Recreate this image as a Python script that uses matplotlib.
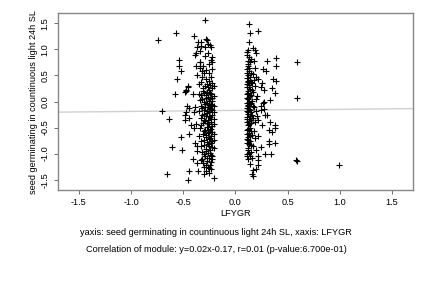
import matplotlib
matplotlib.use("Agg")
import matplotlib.pyplot as plt
import numpy as np

# point readings (x, y), grouped by cluster
left_pts = [
    (-0.74, 1.18), (-0.57, 1.31), (-0.29, 1.56), (-0.40, 1.26), (-0.36, 1.15), (-0.28, 1.20),
    (-0.37, 1.04), (-0.39, 0.90), (-0.54, 0.79), (-0.54, 0.69), (-0.52, 0.58), (-0.34, 0.76),
    (-0.34, 0.69), (-0.38, 0.68), (-0.56, 0.44), (-0.58, 0.15), (-0.45, 0.29), (-0.47, 0.20),
    (-0.41, 0.15), (-0.46, -0.08), (-0.44, -0.12), (-0.47, -0.20), (-0.40, -0.20), (-0.39, -0.10),
    (-0.44, -0.31), (-0.43, -0.46), (-0.38, -0.43), (-0.40, -0.50), (-0.70, -0.19), (-0.64, -0.33),
    (-0.66, -1.39), (-0.61, -0.88), (-0.52, -0.68), (-0.51, -0.94), (-0.45, -1.51), (-0.44, -0.63),
    (-0.39, -0.79), (-0.37, -0.85), (-0.37, -0.95), (-0.41, -1.11), (-0.37, -1.18), (-0.32, -1.10),
    (-0.44, -1.33), (-0.36, -1.33), (-0.30, -1.40), (-0.21, -1.46), (-0.48, -0.26), (-0.48, -0.35),
    (-0.47, 0.22), (-0.45, 0.27), (-0.48, 0.18),
    (-0.27, 1.19), (-0.26, 1.10), (-0.23, 1.05), (-0.29, 1.05), (-0.33, 1.15), (-0.33, 1.06),
    (-0.38, 0.93), (-0.34, 0.97), (-0.26, 0.94), (-0.22, 0.85), (-0.23, 0.80), (-0.22, 0.76),
    (-0.34, 0.75), (-0.34, 0.65), (-0.31, 0.68), (-0.28, 0.60), (-0.25, 0.55), (-0.30, 0.55),
    (-0.32, 0.47), (-0.37, 0.50), (-0.23, 0.47), (-0.25, 0.40), (-0.22, 0.36), (-0.27, 0.34),
    (-0.24, 0.31), (-0.29, 0.30), (-0.35, 0.33), (-0.31, 0.25), (-0.22, 0.26), (-0.25, 0.22),
    (-0.27, 0.18), (-0.30, 0.16), (-0.23, 0.15), (-0.33, 0.12), (-0.21, 0.11), (-0.26, 0.09),
    (-0.28, 0.06), (-0.24, 0.04), (-0.22, 0.01), (-0.30, 0.00), (-0.34, 0.02), (-0.27, -0.02),
    (-0.23, -0.05), (-0.25, -0.07), (-0.21, -0.09), (-0.29, -0.10), (-0.32, -0.12), (-0.24, -0.13),
    (-0.22, -0.16), (-0.27, -0.18), (-0.35, -0.19), (-0.25, -0.21), (-0.30, -0.23), (-0.22, -0.25),
    (-0.28, -0.27), (-0.24, -0.30), (-0.33, -0.31), (-0.21, -0.33), (-0.26, -0.35), (-0.29, -0.37),
    (-0.23, -0.40), (-0.31, -0.42), (-0.25, -0.44), (-0.22, -0.47), (-0.27, -0.49), (-0.34, -0.50),
    (-0.24, -0.53), (-0.29, -0.55), (-0.22, -0.58), (-0.26, -0.61), (-0.31, -0.63), (-0.23, -0.66),
    (-0.28, -0.68), (-0.25, -0.71), (-0.21, -0.73), (-0.33, -0.75), (-0.27, -0.78), (-0.23, -0.80),
    (-0.30, -0.83), (-0.25, -0.86), (-0.22, -0.88), (-0.28, -0.91), (-0.24, -0.94), (-0.32, -0.96),
    (-0.26, -0.99), (-0.23, -1.02), (-0.29, -1.05), (-0.25, -1.08), (-0.22, -1.11), (-0.27, -1.15),
    (-0.31, -1.18), (-0.24, -1.21), (-0.26, -1.26), (-0.23, -1.30), (-0.28, -1.33), (-0.25, -1.38),
    (-0.24, 1.08), (-0.29, 0.88), (-0.25, 0.72), (-0.32, 0.58), (-0.22, 0.62), (-0.28, 0.43),
    (-0.33, 0.38), (-0.21, 0.30), (-0.26, 0.27), (-0.31, 0.20), (-0.24, 0.17), (-0.35, 0.14),
    (-0.28, 0.12), (-0.22, 0.07), (-0.32, 0.05), (-0.25, 0.01), (-0.29, -0.04), (-0.22, -0.06),
    (-0.33, -0.08), (-0.26, -0.11), (-0.23, -0.14), (-0.30, -0.16), (-0.27, -0.22), (-0.21, -0.20),
    (-0.32, -0.26), (-0.25, -0.28), (-0.23, -0.34), (-0.30, -0.36), (-0.27, -0.41), (-0.21, -0.43),
    (-0.33, -0.45), (-0.26, -0.48), (-0.23, -0.52), (-0.30, -0.57), (-0.25, -0.59), (-0.21, -0.63),
    (-0.28, -0.65), (-0.35, -0.67), (-0.24, -0.70), (-0.30, -0.73), (-0.22, -0.76), (-0.26, -0.82),
    (-0.33, -0.85), (-0.21, -0.90), (-0.28, -0.95), (-0.24, -0.98), (-0.30, -1.01), (-0.22, -1.04),
    (-0.27, -1.09), (-0.33, -1.12), (-0.23, -1.16), (-0.28, -1.22), (-0.25, -1.28), (-0.30, -1.26),
]

right_pts = [
    (0.13, 1.48), (0.14, 1.31), (0.22, 1.35), (0.13, 1.15), (0.17, 1.03), (0.19, 0.98),
    (0.20, 0.93), (0.12, 0.98), (0.11, 0.90), (0.13, 0.85), (0.15, 0.82), (0.12, 0.77),
    (0.14, 0.75), (0.18, 0.78), (0.30, 0.77), (0.39, 0.83), (0.39, 0.69), (0.26, 0.62),
    (0.29, 0.59), (0.12, 0.68), (0.11, 0.62), (0.13, 0.58), (0.15, 0.55), (0.17, 0.52),
    (0.12, 0.50), (0.20, 0.48), (0.11, 0.45), (0.14, 0.42), (0.22, 0.44), (0.36, 0.43),
    (0.39, 0.39), (0.12, 0.38), (0.16, 0.35), (0.13, 0.32), (0.19, 0.30), (0.11, 0.28),
    (0.24, 0.28), (0.27, 0.23), (0.35, 0.25), (0.38, 0.16), (0.14, 0.24), (0.12, 0.20),
    (0.17, 0.18), (0.11, 0.15), (0.15, 0.12), (0.13, 0.08), (0.21, 0.10), (0.12, 0.04),
    (0.33, 0.02), (0.16, 0.01), (0.11, -0.02), (0.14, -0.05), (0.24, -0.08), (0.26, -0.03),
    (0.12, -0.09), (0.18, -0.11), (0.13, -0.14), (0.11, -0.18), (0.15, -0.20), (0.20, -0.18),
    (0.30, -0.26), (0.28, -0.26), (0.12, -0.24), (0.14, -0.28), (0.17, -0.31), (0.11, -0.34),
    (0.22, -0.36), (0.33, -0.39), (0.13, -0.38), (0.15, -0.42), (0.38, -0.50), (0.38, -0.46),
    (0.12, -0.46), (0.32, -0.55), (0.35, -0.58), (0.14, -0.50), (0.11, -0.54), (0.18, -0.56),
    (0.13, -0.60), (0.16, -0.64), (0.12, -0.68), (0.22, -0.66), (0.32, -0.75), (0.32, -0.82),
    (0.38, -0.80), (0.11, -0.72), (0.14, -0.76), (0.13, -0.82), (0.17, -0.86), (0.12, -0.90),
    (0.20, -0.93), (0.28, -1.00), (0.34, -1.00), (0.15, -0.96), (0.11, -1.00), (0.14, -1.05),
    (0.22, -1.05), (0.12, -1.10), (0.14, -1.20), (0.22, -1.22), (0.17, -1.32), (0.20, -1.30),
    (0.16, -1.40), (0.17, -1.43),
    (0.11, 0.95), (0.12, 0.72), (0.13, 0.64), (0.11, 0.55), (0.14, 0.48), (0.12, 0.40),
    (0.15, 0.37), (0.11, 0.33), (0.13, 0.27), (0.16, 0.22), (0.12, 0.16), (0.14, 0.10),
    (0.11, 0.06), (0.13, 0.00), (0.15, -0.03), (0.12, -0.07), (0.17, -0.08), (0.11, -0.12),
    (0.14, -0.17), (0.12, -0.21), (0.16, -0.25), (0.11, -0.29), (0.13, -0.33), (0.15, -0.36),
    (0.11, -0.40), (0.13, -0.44), (0.12, -0.52), (0.15, -0.57), (0.11, -0.62), (0.14, -0.66),
    (0.12, -0.74), (0.11, -0.80), (0.15, -0.84), (0.12, -0.94), (0.13, -0.98), (0.11, -1.04),
    (0.16, -1.08), (0.24, -0.16), (0.27, -0.14), (0.19, -0.40), (0.21, -0.28), (0.25, -0.45),
    (0.19, 0.65), (0.18, 0.42), (0.20, 0.05), (0.19, -0.70), (0.24, -0.88), (0.22, -1.12),
    (0.25, 0.35), (0.27, 0.00),
]

outlier_pts = [(0.59, 0.75), (0.59, 0.06), (0.58, -1.12), (0.59, -1.14), (0.99, -1.22)]

slope, intercept = 0.02, -0.17
ticks = [-1.5, -1.0, -0.5, 0.0, 0.5, 1.0, 1.5]

xlabel = "LFYGR"
ylabel = "seed germinating in countinuous light 24h SL"
line1 = "yaxis: seed germinating in countinuous light 24h SL, xaxis: LFYGR"
line2 = "Correlation of module: y=0.02x-0.17, r=0.01 (p-value:6.700e-01)"

plt.rcParams["font.family"] = ["Liberation Sans", "DejaVu Sans"]
plt.rcParams["font.size"] = 6.6

pts = np.array(left_pts + right_pts + outlier_pts)

fig = plt.figure(figsize=(4.32, 2.88), dpi=100)
ax = fig.add_axes([0.134, 0.340, 0.822, 0.615])

lim = (-1.7, 1.7)
xs = np.array(lim)
ax.plot(xs, slope * xs + intercept, color="#d0d0d0", lw=1, zorder=1)
ax.scatter(pts[:, 0], pts[:, 1], marker="+", s=14, c="black", linewidths=0.8, zorder=2)

ax.set_xlim(lim)
ax.set_ylim(lim)
ax.set_xticks(ticks)
ax.set_yticks(ticks)
ax.set_xticklabels([f"{t:.1f}" for t in ticks])
ax.set_yticklabels([f"{t:.1f}" for t in ticks], rotation=90, va="center")
ax.tick_params(direction="out", length=3, width=0.6, color="#555555", pad=3)
for s in ax.spines.values():
    s.set_color("#888888")
    s.set_linewidth(1)

ax.set_xlabel(xlabel, labelpad=1)
ax.set_ylabel(ylabel, labelpad=2)

fig.text(0.5, 0.194, line1, ha="center", va="center")
fig.text(0.5, 0.135, line2, ha="center", va="center")

fig.savefig("out.png", dpi=100)
